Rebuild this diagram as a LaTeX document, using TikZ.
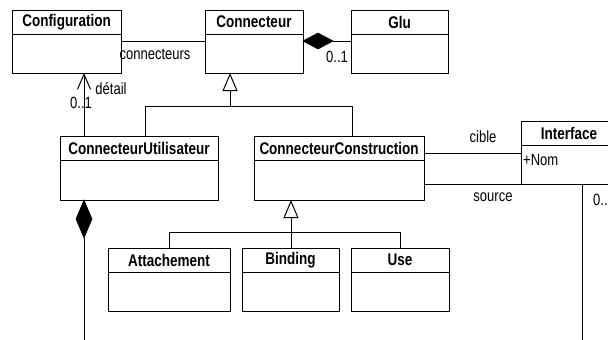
\documentclass[tikz,border=0pt]{standalone}
\usepackage{fontspec}
\setmainfont{Liberation Sans}
\usepackage{graphicx}
\usetikzlibrary{arrows.meta,calc}
\newcommand\ttltext[1]{\scalebox{1}[1.25]{\bfseries #1}}
\newcommand\lbltext[1]{\scalebox{1}[1.25]{#1}}
\tikzset{
  box/.style={draw, line width=1pt, inner sep=0pt, outer sep=0pt, rectangle},
  ttl/.style={inner sep=0pt, font=\fontsize{13.5}{15}\selectfont},
  lbl/.style={inner sep=0pt, font=\fontsize{13}{15}\selectfont},
  conn/.style={line width=1pt},
  gen/.style={line width=1pt, -{Triangle[open,length=18pt,width=15pt,line width=1pt]}},
  nav/.style={line width=1pt, -{Straight Barb[length=15pt,width=13pt,line width=1pt]}},
}
\newcommand\umlclass[6]{%
  \node[box, minimum width=#4pt, minimum height=#5pt, anchor=north west] (#1) at (#2,#3) {};
  \draw[line width=1pt] ([yshift=-24pt]#1.north west) -- ([yshift=-24pt]#1.north east);
  \node[ttl] (#1-t) at ([yshift=-12pt]#1.north) {\ttltext{#6}};
}
\begin{document}
\begin{tikzpicture}[x=1pt,y=-1pt]
\useasboundingbox (0,0) rectangle (608,340);
\clip (0,0) rectangle (608,340);
\fill[white] (0,0) rectangle (608,340);

\umlclass{conf}{12}{10}{109}{63}{Configuration}
\umlclass{cnx}{205}{10}{98}{63}{Connecteur}
\umlclass{glu}{351}{10}{97}{63}{Glu}
\umlclass{cu}{60}{136}{158}{64}{ConnecteurUtilisateur}
\umlclass{cc}{254}{136}{170}{64}{ConnecteurConstruction}
\umlclass{att}{108}{248}{122}{63}{Attachement}
\umlclass{bind}{242}{248}{97}{63}{Binding}
\umlclass{use}{351}{248}{98}{63}{Use}
\umlclass{intf}{521}{121}{96}{63}{Interface}
\node[lbl, anchor=west] (nom) at ([xshift=2pt,yshift=-39pt]intf.north west) {\lbltext{+Nom}};

% Configuration -- Connecteur
\draw[conn] ([yshift=-31pt]conf.north east) -- ([yshift=-31pt]cnx.north west);
\node[lbl] (lconn) at (155,54) {\lbltext{connecteurs}};

% Connecteur <>-- Glu
\coordinate (dA) at ([yshift=-31pt]cnx.north east);
\filldraw[line width=0.6pt] (dA) -- ++(15,-8) -- ++(15,8) -- ++(-15,8) -- cycle;
\draw[conn] ([xshift=30pt]dA) -- ([yshift=-31pt]glu.north west);
\node[lbl] (lglu) at (337,57) {\lbltext{0..1}};

% detail
\draw[nav] ([xshift=24pt]cu.north west) -- ([xshift=72pt]conf.south west);
\node[lbl] (ldet) at (111,89) {\lbltext{détail}};
\node[lbl] (ldet01) at (81,103) {\lbltext{0..1}};

% generalisation Connecteur
\coordinate (j1) at (230,106);
\draw[conn] ([xshift=85pt]cu.north west) -- ++(0,-30) -- ([xshift=98pt,yshift=30pt]cc.north west) -- ([xshift=98pt]cc.north west);
\draw[gen] (j1) -- ([xshift=25pt]cnx.south west);

% generalisation ConnecteurConstruction
\coordinate (j2) at (291,232);
\draw[conn] ([xshift=61pt]att.north west) -- ++(0,-16) -| ([xshift=49pt]use.north west);
\draw[conn] ([xshift=49pt]bind.north west) -- (j2);
\draw[gen] (j2) -- ([xshift=37pt]cc.south west);

% ConnecteurUtilisateur composition downwards
\coordinate (dB) at ([xshift=24pt]cu.south west);
\coordinate (botA) at (84,345);
\filldraw[line width=0.6pt] (dB) -- ++(-8,19) -- ++(8,19) -- ++(8,-19) -- cycle;
\draw[conn] ([yshift=-38pt]dB) -- (botA);

% cible / source
\draw[conn] ([yshift=-17pt]cc.north east) -- ([yshift=-32pt]intf.north west);
\node[lbl] (lcible) at (483,137) {\lbltext{cible}};
\draw[conn] ([yshift=16pt]cc.south east) -- (intf.south west);
\node[lbl] (lsource) at (493,197) {\lbltext{source}};
\coordinate (botB) at (582,345);
\draw[conn] ([xshift=61pt]intf.south west) -- (botB);
\node[lbl, anchor=west] (lint) at (593,200) {\lbltext{0..}};
\end{tikzpicture}
\end{document}
